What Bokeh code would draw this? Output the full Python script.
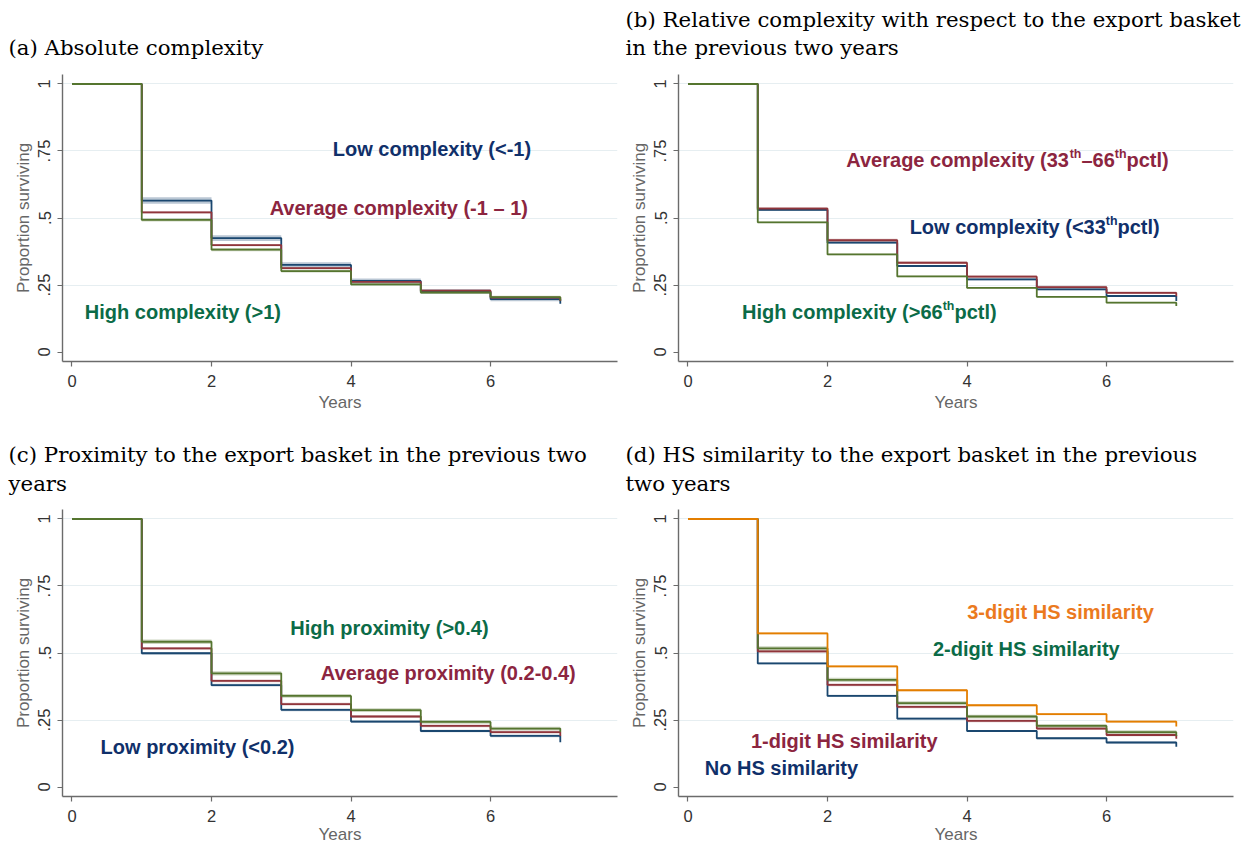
import math
from bokeh.plotting import figure
from bokeh.layouts import column, row
from bokeh.models import FixedTicker, Range1d, CustomJSTickFormatter
from bokeh.core.properties import value
from bokeh.embed import file_html
from bokeh.resources import INLINE

# ---------------- data ----------------
years = [0, 1, 2, 3, 4, 5, 6, 7]
x_ticks = [0, 2, 4, 6]
y_ticks = [0, 0.25, 0.5, 0.75, 1]

# (a) absolute complexity
a_low = [1, 0.565, 0.425, 0.325, 0.265, 0.226, 0.197, 0.180]
a_avg = [1, 0.521, 0.399, 0.313, 0.262, 0.229, 0.203, 0.190]
a_high = [1, 0.493, 0.382, 0.302, 0.252, 0.222, 0.205, 0.192]
a_low_ci = [0, 0.012, 0.011, 0.010, 0.009, 0.008, 0.008, 0.008]
a_avg_ci = [0, 0.004, 0.004, 0.004, 0.004, 0.004, 0.004, 0.004]
a_high_ci = [0, 0.006, 0.006, 0.005, 0.005, 0.005, 0.005, 0.005]

# (b) relative complexity
b_low = [1, 0.530, 0.408, 0.321, 0.271, 0.234, 0.209, 0.190]
b_avg = [1, 0.535, 0.417, 0.333, 0.281, 0.242, 0.221, 0.208]
b_high = [1, 0.484, 0.364, 0.282, 0.239, 0.206, 0.184, 0.172]
b_low_ci = [0, 0.004, 0.004, 0.004, 0.004, 0.004, 0.004, 0.004]
b_avg_ci = [0, 0.006, 0.006, 0.005, 0.005, 0.005, 0.005, 0.005]
b_high_ci = [0, 0.003, 0.003, 0.003, 0.003, 0.003, 0.003, 0.003]

# (c) proximity
c_low = [1, 0.499, 0.380, 0.288, 0.244, 0.209, 0.191, 0.167]
c_avg = [1, 0.517, 0.396, 0.309, 0.263, 0.228, 0.205, 0.190]
c_high = [1, 0.542, 0.424, 0.340, 0.287, 0.243, 0.218, 0.205]
c_low_ci = [0, 0.005, 0.005, 0.005, 0.005, 0.005, 0.005, 0.005]
c_avg_ci = [0, 0.005, 0.005, 0.005, 0.005, 0.005, 0.005, 0.005]
c_high_ci = [0, 0.008, 0.008, 0.007, 0.007, 0.007, 0.007, 0.007]

# (d) HS similarity
d_none = [1, 0.461, 0.340, 0.255, 0.209, 0.182, 0.166, 0.150]
d_one = [1, 0.506, 0.381, 0.299, 0.247, 0.218, 0.194, 0.180]
d_two = [1, 0.517, 0.400, 0.313, 0.263, 0.228, 0.205, 0.190]
d_three = [1, 0.573, 0.450, 0.361, 0.305, 0.272, 0.244, 0.226]
d_none_ci = [0, 0.004, 0.004, 0.004, 0.004, 0.004, 0.004, 0.004]
d_one_ci = [0, 0.005, 0.005, 0.005, 0.005, 0.005, 0.005, 0.005]
d_two_ci = [0, 0.008, 0.008, 0.007, 0.007, 0.007, 0.007, 0.007]
d_three_ci = [0, 0.004, 0.004, 0.004, 0.004, 0.004, 0.004, 0.004]

titles = [
    ["(a) Absolute complexity"],
    ["(b) Relative complexity with respect to the export basket", "in the previous two years"],
    ["(c) Proximity to the export basket in the previous two", "years"],
    ["(d) HS similarity to the export basket in the previous", "two years"],
]

# ---------------- styles ----------------
NAVY = "#1a476f"
MAROON = "#90353b"
GREEN = "#55752f"
ORANGE = "#e37e00"
T_NAVY = "#10306a"
T_MAROON = "#8c2540"
T_GREEN = "#0b6b47"
T_ORANGE = "#eb7a1e"

# Arial/Liberation Sans Bold advance widths (1/1000 em)
AB = {" ": 278, "(": 333, ")": 333, "-": 333, ".": 278, "<": 584, ">": 584, "\u2013": 556,
      "A": 722, "H": 722, "L": 611, "N": 722, "S": 667,
      "a": 556, "c": 556, "d": 611, "e": 556, "g": 611, "h": 611, "i": 278, "l": 278,
      "m": 889, "o": 611, "p": 611, "r": 389, "s": 556, "t": 333, "v": 556, "w": 778,
      "x": 556, "y": 556, "n": 611, "b": 611, "u": 611, "k": 556, "f": 333}
for dch in "0123456789":
    AB[dch] = 556

LBL_SIZE = 20
FW, FH = 555, 287
TH = 64  # height of the title strip above each panel


def rich_label(p, x, y, segments, color, size=LBL_SIZE):
    sup_size = size * 0.62
    widths = []
    for txt, sup in segments:
        fs = sup_size if sup else size
        widths.append(sum(AB.get(ch, 556) for ch in txt) / 1000.0 * fs)
    cur = -sum(widths) / 2.0
    for (txt, sup), w in zip(segments, widths):
        fs = sup_size if sup else size
        p.text(x=[x], y=[y], text=[txt], x_offset=cur, y_offset=(-6 if sup else 0),
               text_align="left", text_baseline="middle",
               text_font=value("Liberation Sans"), text_font_style="bold",
               text_font_size=f"{fs:.1f}px", text_color=color)
        cur += w


def title_strip(lines, width, x0, base1, base2):
    t = figure(frame_width=width, frame_height=TH, output_backend="svg", toolbar_location=None,
               x_range=Range1d(0, width), y_range=Range1d(TH, 0), tools="", title=None,
               x_axis_location=None, y_axis_location=None, min_border=0)
    t.outline_line_color = None
    t.grid.visible = False
    t.background_fill_color = "white"
    t.border_fill_color = "white"
    bases = [base1, base2] if len(lines) == 2 else [base2]
    t.text(x=[x0] * len(lines), y=bases, text=lines, text_align="left",
           text_baseline="alphabetic", text_font=value("DejaVu Serif"),
           text_font_size="21.3px", text_color="black")
    return t


def make_fig(left, right, top, bottom, label_standoff):
    p = figure(frame_width=FW, frame_height=FH, output_backend="svg", toolbar_location=None,
               x_range=Range1d(-0.136, 7.82), y_range=Range1d(-0.0354, 1.0354),
               min_border_left=left, min_border_right=right, min_border_top=top,
               min_border_bottom=bottom, tools="", title=None)
    p.outline_line_color = None
    p.background_fill_color = "white"
    p.border_fill_color = "white"
    p.xgrid.visible = False
    p.ygrid.ticker = FixedTicker(ticks=[0.25, 0.5, 0.75, 1])
    p.ygrid.grid_line_color = "#e6eef1"
    p.ygrid.grid_line_width = 1.2

    p.xaxis.ticker = FixedTicker(ticks=x_ticks)
    p.yaxis.ticker = FixedTicker(ticks=y_ticks)
    p.yaxis.formatter = CustomJSTickFormatter(
        code="return (tick == 0) ? '0' : (tick == 1) ? '1' : tick.toString().replace(/^0/, '');")
    p.yaxis.major_label_orientation = "parallel"
    for ax in (p.xaxis, p.yaxis):
        ax.axis_line_color = "#6b6b6b"
        ax.axis_line_width = 1.4
        ax.major_tick_line_color = "#6b6b6b"
        ax.major_tick_line_width = 1.2
        ax.major_tick_in = 0
        ax.major_tick_out = 5
        ax.minor_tick_line_color = None
        ax.major_label_text_font = "Liberation Sans"
        ax.major_label_text_font_size = "16.5px"
        ax.major_label_text_color = "#333333"
        ax.axis_label_text_font = "Liberation Sans"
        ax.axis_label_text_font_size = "17px"
        ax.axis_label_text_font_style = "normal"
        ax.axis_label_text_color = "#666666"
    p.xaxis.axis_label = "Years"
    p.yaxis.axis_label = "Proportion surviving"
    p.xaxis.major_label_standoff = 8
    p.xaxis.axis_label_standoff = label_standoff
    p.yaxis.major_label_standoff = 7
    p.yaxis.axis_label_standoff = 3
    return p


def add_curves(p, series):
    for y, ci, col in series:
        lo = [v - c for v, c in zip(y, ci)]
        hi = [v + c for v, c in zip(y, ci)]
        p.varea_step(x=years, y1=lo, y2=hi, step_mode="after", fill_color=col, fill_alpha=0.3)
    for y, ci, col in series:
        p.step(x=years, y=y, mode="after", line_color=col, line_width=1.8)


# column 1: canvas 62 + 555 + 7 = 624 ; column 2: 54 + 555 + 14 = 623
ta = title_strip(titles[0], 624, 8, 19, 47)
tb = title_strip(titles[1], 623, 1, 19, 47)
tc = title_strip(titles[2], 624, 8, 21, 50)
td = title_strip(titles[3], 623, 1, 21, 50)

pa = make_fig(62, 7, 10, 72, 3)
pb = make_fig(54, 14, 10, 72, 3)
pc = make_fig(62, 7, 12, 50, 0)
pd = make_fig(54, 14, 12, 50, 0)

add_curves(pa, [(a_low, a_low_ci, NAVY), (a_avg, a_avg_ci, MAROON), (a_high, a_high_ci, GREEN)])
add_curves(pb, [(b_low, b_low_ci, NAVY), (b_avg, b_avg_ci, MAROON), (b_high, b_high_ci, GREEN)])
add_curves(pc, [(c_low, c_low_ci, NAVY), (c_avg, c_avg_ci, MAROON), (c_high, c_high_ci, GREEN)])
add_curves(pd, [(d_none, d_none_ci, NAVY), (d_one, d_one_ci, MAROON), (d_two, d_two_ci, GREEN),
                (d_three, d_three_ci, ORANGE)])

rich_label(pa, 5.16, 0.757, [("Low complexity (<-1)", False)], T_NAVY)
rich_label(pa, 4.69, 0.537, [("Average complexity (-1 \u2013 1)", False)], T_MAROON)
rich_label(pa, 1.59, 0.149, [("High complexity (>1)", False)], T_GREEN)

rich_label(pb, 4.58, 0.717, [("Average complexity (33", False), ("th", True), ("\u201366", False),
                             ("th", True), ("pctl)", False)], T_MAROON)
rich_label(pb, 4.97, 0.467, [("Low complexity (<33", False), ("th", True), ("pctl)", False)], T_NAVY)
rich_label(pb, 2.60, 0.148, [("High complexity (>66", False), ("th", True), ("pctl)", False)], T_GREEN)

rich_label(pc, 4.55, 0.593, [("High proximity (>0.4)", False)], T_GREEN)
rich_label(pc, 5.40, 0.425, [("Average proximity (0.2-0.4)", False)], T_MAROON)
rich_label(pc, 1.80, 0.148, [("Low proximity (<0.2)", False)], T_NAVY)

rich_label(pd, 5.34, 0.653, [("3-digit HS similarity", False)], T_ORANGE)
rich_label(pd, 4.85, 0.514, [("2-digit HS similarity", False)], T_GREEN)
rich_label(pd, 2.24, 0.172, [("1-digit HS similarity", False)], T_MAROON)
rich_label(pd, 1.34, 0.070, [("No HS similarity", False)], T_NAVY)

layout = column(row(ta, tb), row(pa, pb), row(tc, td), row(pc, pd))
open("out.html", "w").write(file_html(layout, INLINE))
